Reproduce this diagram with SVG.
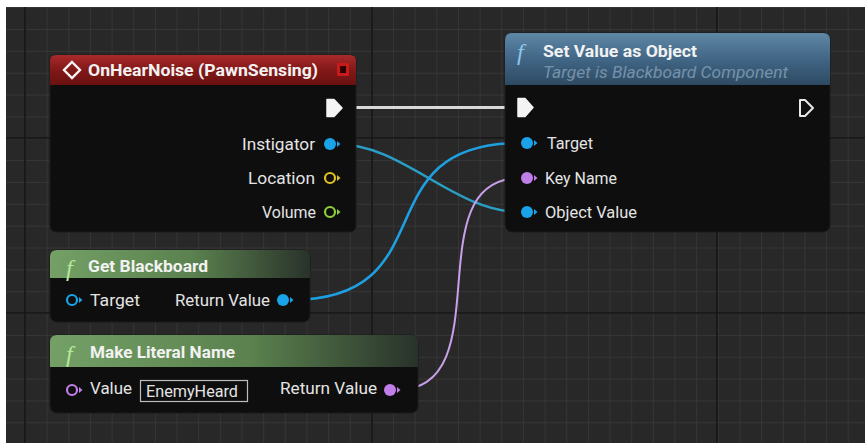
<svg xmlns="http://www.w3.org/2000/svg" width="865" height="443" viewBox="0 0 865 443">
<defs>
<style>
.body{fill:#0e0e0e;stroke:#1b1b1b;stroke-width:1}
.title{font-family:Roboto,"Liberation Sans",sans-serif;font-weight:bold;font-size:17px;fill:#f2f2f2}
.sub{font-family:Roboto,"Liberation Sans",sans-serif;font-style:italic;font-size:16px;fill:#7492ab}
.lbl{font-family:Roboto,"Liberation Sans",sans-serif;font-size:16.5px;fill:#e4e4e4}
.fi{font-family:"Liberation Serif",serif;font-style:italic;font-size:24px}
.wire{fill:none;stroke-linecap:round}
</style>
<pattern id="grid" x="25" y="29" width="21.65" height="21.85" patternUnits="userSpaceOnUse">
<rect width="21.65" height="21.85" fill="#282828"/>
<path d="M0,0 V21.85 M0,0 H21.65" stroke="#3a3a3a" stroke-width="1.4" fill="none"/>
</pattern>
<linearGradient id="gRed" x1="0" y1="0" x2="0" y2="1">
<stop offset="0" stop-color="#a82a2a"/>
<stop offset="0.5" stop-color="#821818"/>
<stop offset="1" stop-color="#6a1010"/>
</linearGradient>
<linearGradient id="gBlue" x1="0" y1="0" x2="0" y2="1">
<stop offset="0" stop-color="#5f87a6"/>
<stop offset="0.55" stop-color="#3f6382"/>
<stop offset="1" stop-color="#2e4a62"/>
</linearGradient>
<linearGradient id="gGreen" x1="0" y1="0" x2="1" y2="0">
<stop offset="0" stop-color="#74a066"/>
<stop offset="0.55" stop-color="#5a814e"/>
<stop offset="1" stop-color="#29322a"/>
</linearGradient>
</defs>
<rect width="865" height="443" fill="#ffffff"/>
<rect x="6" y="7" width="859" height="436" fill="url(#grid)"/>
<g stroke="#161616" stroke-width="1.6">
<line x1="25" y1="7" x2="25" y2="443"/>
<line x1="372" y1="7" x2="372" y2="443"/>
<line x1="717" y1="7" x2="717" y2="443"/>
<line x1="6" y1="138" x2="865" y2="138"/>
<line x1="6" y1="313" x2="865" y2="313"/>
</g>

<g id="connectors">
<path class="wire" d="M340,107.5 H520" stroke="#d8d8d8" stroke-width="3"/>
<path class="wire" d="M337,144 C403,144 454,212 520,212" stroke="#2a9ec4" stroke-width="2.6"/>
<path class="wire" d="M290,300 C450,300 360,143 520,143" stroke="#1e9fe0" stroke-width="2.6"/>
<path class="wire" d="M397,390 C503,390 414,178 520,178" stroke="#c9a0ea" stroke-width="2"/>
</g>

<g id="onHearNoise">
<rect class="body" x="50" y="55" width="306" height="177" rx="6"/>
<path d="M50,85 V61 Q50,55 56,55 H350 Q356,55 356,61 V85 Z" fill="url(#gRed)"/>
<path d="M72,62 L80,70 L72,78 L64,70 Z" fill="none" stroke="#f4f4f4" stroke-width="2.4"/>
<text class="title" x="88" y="76" textLength="230" lengthAdjust="spacingAndGlyphs">OnHearNoise (PawnSensing)</text>
<rect x="337" y="63" width="12" height="13" fill="#c81a1a" rx="1"/>
<rect x="340" y="66" width="6" height="7" fill="#300000"/>
<path d="M327,99.5 H334 L342,108 L334,116.5 H327 Z" fill="#f4f4f4" stroke="#f4f4f4" stroke-width="1.5" stroke-linejoin="round"/>
<text class="lbl" x="242" y="149.5" textLength="73" lengthAdjust="spacingAndGlyphs">Instigator</text>
<circle cx="330" cy="144" r="6" fill="#1aa3e8"/>
<path d="M337,141 L340.5,144 L337,147 Z" fill="#1aa3e8"/>
<text class="lbl" x="248" y="183.5" textLength="67" lengthAdjust="spacingAndGlyphs">Location</text>
<circle cx="330" cy="178" r="5" fill="#0e0e0e" stroke="#e0c020" stroke-width="2.2"/>
<path d="M337,175 L340.5,178 L337,181 Z" fill="#e0c020"/>
<text class="lbl" x="262" y="218" textLength="54" lengthAdjust="spacingAndGlyphs">Volume</text>
<circle cx="330" cy="212" r="5" fill="#0e0e0e" stroke="#8fd03a" stroke-width="2.2"/>
<path d="M337,209 L340.5,212 L337,215 Z" fill="#8fd03a"/>
</g>

<g id="setValueAsObject">
<rect class="body" x="505" y="33" width="325" height="199" rx="7"/>
<path d="M505,85 V40 Q505,33 512,33 H823 Q830,33 830,40 V85 Z" fill="url(#gBlue)"/>
<text class="fi" x="517" y="60" fill="#8cc6ec">f</text>
<text class="title" x="543" y="56.5" textLength="154" lengthAdjust="spacingAndGlyphs">Set Value as Object</text>
<text class="sub" x="543" y="78" textLength="245" lengthAdjust="spacingAndGlyphs">Target is Blackboard Component</text>
<path d="M518,98.5 H525 L533,107.5 L525,116.5 H518 Z" fill="#f4f4f4" stroke="#f4f4f4" stroke-width="1.5" stroke-linejoin="round"/>
<path d="M800,100 H805 L813,108 L805,116 H800 Z" fill="none" stroke="#e8e8e8" stroke-width="2" stroke-linejoin="round"/>
<circle cx="527" cy="143" r="6" fill="#1aa3e8"/>
<path d="M534,140 L537.5,143 L534,146 Z" fill="#1aa3e8"/>
<text class="lbl" x="547" y="149" textLength="46" lengthAdjust="spacingAndGlyphs">Target</text>
<circle cx="527" cy="178" r="6" fill="#c07ee8"/>
<path d="M534,175 L537.5,178 L534,181 Z" fill="#c07ee8"/>
<text class="lbl" x="545" y="183.5" textLength="72" lengthAdjust="spacingAndGlyphs">Key Name</text>
<circle cx="527" cy="212" r="6" fill="#1aa3e8"/>
<path d="M534,209 L537.5,212 L534,215 Z" fill="#1aa3e8"/>
<text class="lbl" x="545" y="217.5" textLength="92" lengthAdjust="spacingAndGlyphs">Object Value</text>
</g>

<g id="getBlackboard">
<rect class="body" x="50" y="250" width="260" height="72" rx="7"/>
<path d="M50,278 V257 Q50,250 57,250 H303 Q310,250 310,257 V278 Z" fill="url(#gGreen)"/>
<text class="fi" x="66" y="276" fill="#b4e89c">f</text>
<text class="title" x="88" y="271.5" textLength="120" lengthAdjust="spacingAndGlyphs">Get Blackboard</text>
<circle cx="72" cy="300" r="5" fill="#0e0e0e" stroke="#1aa3e8" stroke-width="2.2"/>
<path d="M79,297 L82.5,300 L79,303 Z" fill="#1aa3e8"/>
<text class="lbl" x="90" y="305.5" textLength="50" lengthAdjust="spacingAndGlyphs">Target</text>
<text class="lbl" x="175" y="305.5" textLength="95" lengthAdjust="spacingAndGlyphs">Return Value</text>
<circle cx="283" cy="300" r="6" fill="#1aa3e8"/>
<path d="M290,297 L293.5,300 L290,303 Z" fill="#1aa3e8"/>
</g>

<g id="makeLiteralName">
<rect class="body" x="50" y="335" width="368" height="78" rx="7"/>
<path d="M50,367 V342 Q50,335 57,335 H411 Q418,335 418,342 V367 Z" fill="url(#gGreen)"/>
<text class="fi" x="66" y="362" fill="#b4e89c">f</text>
<text class="title" x="90" y="357.5" textLength="145" lengthAdjust="spacingAndGlyphs">Make Literal Name</text>
<circle cx="72" cy="390" r="5" fill="#0e0e0e" stroke="#c07ee8" stroke-width="2.2"/>
<path d="M79,387 L82.5,390 L79,393 Z" fill="#c07ee8"/>
<text class="lbl" x="90" y="393.5" textLength="42" lengthAdjust="spacingAndGlyphs">Value</text>
<rect x="140.5" y="380.5" width="107" height="21" fill="none" stroke="#bdbdbd" stroke-width="1.2"/>
<text class="lbl" x="146" y="396.5" textLength="92" lengthAdjust="spacingAndGlyphs">EnemyHeard</text>
<text class="lbl" x="280" y="393.5" textLength="97" lengthAdjust="spacingAndGlyphs">Return Value</text>
<circle cx="390" cy="390" r="6" fill="#c07ee8"/>
<path d="M397,387 L400.5,390 L397,393 Z" fill="#c07ee8"/>
</g>
</svg>
